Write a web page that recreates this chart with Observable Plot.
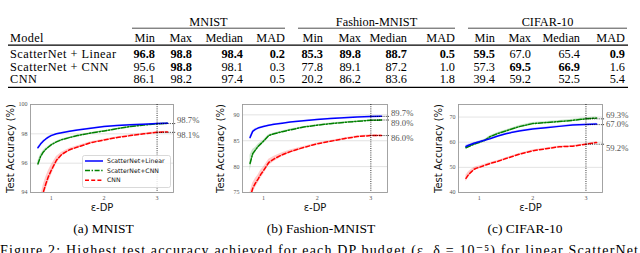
<!DOCTYPE html>
<html><head><meta charset="utf-8">
<script src="https://cdn.jsdelivr.net/npm/d3@7"></script>
<script src="https://cdn.jsdelivr.net/npm/@observablehq/plot@0.6"></script>
<style>
html,body{margin:0;padding:0;background:#fff;}
#fig{position:relative;width:640px;height:253px;overflow:hidden;background:#fff;}
.abs{position:absolute;}
.sub{position:absolute;font-family:"Liberation Serif","DejaVu Serif",serif;font-size:13.5px;color:#000;transform:translateX(-50%);white-space:nowrap;line-height:1;}
.serif, .serif text{font-family:"Liberation Serif","DejaVu Serif",serif;}
</style></head><body><div id="fig"></div>
<script>
// ---------------- data ----------------
const datasets = ["MNIST", "Fashion-MNIST", "CIFAR-10"];
const statNames = ["Min", "Max", "Median", "MAD"];
const models = ["ScatterNet + Linear", "ScatterNet + CNN", "CNN"];
const mnistStats = [[96.8, 98.8, 98.4, 0.2], [95.6, 98.8, 98.1, 0.3], [86.1, 98.2, 97.4, 0.5]];
const fashionStats = [[85.3, 89.8, 88.7, 0.5], [77.8, 89.1, 87.2, 1.0], [20.2, 86.2, 83.6, 1.8]];
const cifarStats = [[59.5, 67.0, 65.4, 0.9], [57.3, 69.5, 66.9, 1.6], [39.4, 59.2, 52.5, 5.4]];

const seriesNames = ["ScatterNet+Linear", "ScatterNet+CNN", "CNN"];
const epsilon = [0.75, 0.8, 0.85, 0.9, 0.95, 1.0, 1.1, 1.2, 1.35, 1.5, 1.75, 2.0, 2.25, 2.5, 2.75, 3.0, 3.2];

const mnistLinear = [97.05, 97.3, 97.5, 97.65, 97.78, 97.88, 98.0, 98.08, 98.18, 98.26, 98.38, 98.5, 98.57, 98.62, 98.66, 98.7, 98.72];
const mnistScatCnn = [95.95, 96.45, 96.75, 96.95, 97.1, 97.25, 97.45, 97.6, 97.75, 97.88, 98.05, 98.2, 98.35, 98.5, 98.6, 98.68, 98.72];
const mnistCnn = [92.0, 93.2, 94.0, 94.6, 95.1, 95.5, 96.2, 96.6, 96.92, 97.1, 97.4, 97.58, 97.75, 97.88, 98.0, 98.1, 98.13];
const mnistLinearBand = [0.06, 0.05, 0.04, 0.04, 0.04, 0.04, 0.03, 0.03, 0.03, 0.03, 0.03, 0.03, 0.03, 0.03, 0.03, 0.03, 0.03];
const mnistScatCnnBand = [0.2, 0.15, 0.1, 0.08, 0.06, 0.05, 0.05, 0.04, 0.04, 0.04, 0.04, 0.03, 0.03, 0.03, 0.03, 0.03, 0.03];
const mnistCnnBand = [0.5, 0.5, 0.5, 0.45, 0.4, 0.35, 0.25, 0.15, 0.1, 0.08, 0.06, 0.05, 0.05, 0.05, 0.05, 0.05, 0.05];
const mnistEnds = [98.7, 98.1];

const fashionLinear = [85.6, 86.8, 87.2, 87.45, 87.6, 87.75, 88.0, 88.2, 88.4, 88.6, 88.86, 89.1, 89.3, 89.45, 89.58, 89.7, 89.72];
const fashionScatCnn = [80.6, 82.5, 83.2, 83.9, 84.4, 84.9, 86.0, 86.35, 86.75, 87.1, 87.65, 88.0, 88.3, 88.55, 88.75, 88.95, 89.0];
const fashionCnn = [74.0, 75.8, 76.8, 77.6, 78.5, 79.2, 80.8, 81.5, 82.3, 82.9, 83.7, 84.4, 84.9, 85.4, 85.8, 86.0, 86.0];
const fashionLinearBand = [0.3, 0.2, 0.15, 0.1, 0.1, 0.1, 0.08, 0.08, 0.08, 0.08, 0.08, 0.08, 0.08, 0.08, 0.08, 0.08, 0.08];
const fashionScatCnnBand = [1.6, 0.8, 0.5, 0.4, 0.3, 0.25, 0.2, 0.15, 0.15, 0.15, 0.12, 0.12, 0.12, 0.12, 0.12, 0.12, 0.12];
const fashionCnnBand = [1.0, 1.0, 0.9, 0.8, 0.8, 0.7, 0.6, 0.5, 0.4, 0.3, 0.2, 0.15, 0.15, 0.15, 0.15, 0.15, 0.15];
const fashionEnds = [89.7, 89.0, 86.0];

const cifarLinear = [58.3, 58.8, 59.2, 59.6, 59.9, 60.2, 60.8, 61.4, 62.5, 63.4, 64.5, 65.3, 65.8, 66.3, 66.8, 67.0, 67.2];
const cifarScatCnn = [57.8, 58.3, 58.7, 59.2, 59.6, 59.9, 60.7, 62.2, 63.5, 64.5, 66.2, 67.4, 67.8, 68.2, 68.7, 69.3, 69.6];
const cifarCnn = [45.6, 47.2, 48.2, 49.2, 49.7, 50.0, 50.8, 51.5, 52.4, 53.5, 55.2, 56.6, 57.4, 58.2, 58.4, 59.2, 59.9];
const cifarLinearBand = [0.5, 0.4, 0.3, 0.3, 0.3, 0.3, 0.3, 0.3, 0.3, 0.3, 0.3, 0.3, 0.3, 0.3, 0.3, 0.3, 0.3];
const cifarScatCnnBand = [0.6, 0.5, 0.4, 0.4, 0.4, 0.4, 0.4, 0.4, 0.4, 0.4, 0.4, 0.4, 0.4, 0.4, 0.4, 0.4, 0.4];
const cifarCnnBand = [1.3, 1.1, 0.9, 0.7, 0.6, 0.5, 0.4, 0.4, 0.35, 0.3, 0.3, 0.3, 0.3, 0.3, 0.3, 0.3, 0.3];
const cifarEnds = [69.3, 67.0, 59.2];

const subcaptions = ["(a) MNIST", "(b) Fashion-MNIST", "(c) CIFAR-10"];
const captionText = "Figure 2: Highest test accuracy achieved for each DP budget (\u03b5, \u03b4 = 10\u207b\u2075) for linear ScatterNet";

// ---------------- styles / layout ----------------
const seriesStyle = [
  {color: "#0000ff", dash: null},
  {color: "#008000", dash: "5,1.6,1.4,1.6"},
  {color: "#ff0000", dash: "4,2.2"}
];
const fig = d3.select("#fig");
const serif = "Liberation Serif, DejaVu Serif, serif";
const sans = "DejaVu Sans, sans-serif";

// ---------------- table ----------------
const tableLayout = [
  {stats: mnistStats, rule: [132, 285], right: [155, 192, 243, 285]},
  {stats: fashionStats, rule: [298, 455], right: [323, 361, 407, 455]},
  {stats: cifarStats, rule: [468, 627], right: [495, 531, 580, 625]}
];
const tsvg = fig.append("svg").attr("class", "abs serif").style("left", "0px").style("top", "0px")
  .attr("width", 640).attr("height", 92);
function ttext(x, y, s, anchor, bold, ls) {
  const t = tsvg.append("text").attr("x", x).attr("y", y).attr("text-anchor", anchor)
    .attr("font-family", serif).attr("font-size", 12.3).attr("fill", "#000").text(s);
  if (bold) t.attr("font-weight", "bold");
  if (ls) t.attr("letter-spacing", ls);
  return t;
}
function hrule(x1, x2, y, w) {
  tsvg.append("line").attr("x1", x1).attr("x2", x2).attr("y1", y).attr("y2", y).attr("stroke", "#000").attr("stroke-width", w);
}
const rowBase = [58.3, 70.8, 83.3];
tableLayout.forEach((g, gi) => {
  ttext((g.rule[0] + g.rule[1]) / 2, 25.8, datasets[gi], "middle");
  hrule(g.rule[0], g.rule[1], 28.2, 0.7);
  statNames.forEach((s, si) => ttext(g.right[si], 41.5, s, "end"));
  statNames.forEach((s, si) => {
    const col = g.stats.map(r => r[si]);
    const best = si === 3 ? d3.min(col) : d3.max(col);
    g.stats.forEach((r, ri) => ttext(g.right[si], rowBase[ri], r[si].toFixed(1), "end", r[si] === best));
  });
});
ttext(10, 41.5, "Model", "start", false, 0.3);
models.forEach((m, i) => ttext(10, rowBase[i], m, "start", false, 0.5));
hrule(8, 628, 45.2, 1.2);
hrule(8, 628, 87.4, 1.2);

// ---------------- charts ----------------
function makeChart(cfg) {
  const marks = [];
  marks.push(Plot.gridY(cfg.yTicks, {stroke: "#dcdcdc", strokeOpacity: 1, strokeWidth: 0.8}));
  cfg.series.forEach((s, i) => {
    const rows = epsilon.map((e, j) => ({x: e, y: s.y[j], lo: s.y[j] - s.band[j], hi: s.y[j] + s.band[j]}));
    marks.push(Plot.areaY(rows, {x: "x", y1: "lo", y2: "hi", fill: seriesStyle[i].color, fillOpacity: 0.2, clip: true}));
  });
  [2, 1, 0].forEach(i => {
    const s = cfg.series[i];
    const rows = epsilon.map((e, j) => ({x: e, y: s.y[j]}));
    marks.push(Plot.line(rows, {x: "x", y: "y", stroke: seriesStyle[i].color, strokeWidth: 1.5,
      strokeDasharray: seriesStyle[i].dash, clip: true}));
  });
  marks.push(Plot.frame({stroke: "#9a9a9a", strokeWidth: 0.9}));
  marks.push(Plot.ruleX([3], {stroke: "#000", strokeWidth: 0.8, strokeDasharray: "1,1.2"}));
  marks.push(Plot.ruleY(cfg.ends, {y: d => d, x1: 3, x2: cfg.xDomain[1] + 0.06, stroke: "#000", strokeWidth: 0.8, strokeDasharray: "1,1.2"}));
  cfg.ends.forEach((v, i) => {
    marks.push(Plot.text([v], {y: d => d, text: d => d.toFixed(1) + "%", frameAnchor: "right", textAnchor: "start",
      lineAnchor: "middle", dx: 3.5, dy: cfg.endDy[i], fontSize: 8.7, fill: "#555", fontFamily: serif}));
  });
  marks.push(Plot.axisY(cfg.yTicks, {tickSize: 0, tickPadding: 3, fontSize: 6, color: "#555", label: null, fontFamily: serif}));
  marks.push(Plot.axisX([1, 2, 3], {tickSize: 0, tickPadding: 3, fontSize: 6, color: "#555", label: null, fontFamily: serif}));
  marks.push(Plot.text(["Test Accuracy (%)"], {text: d => d, frameAnchor: "left", rotate: -90, dx: cfg.ylabelDx,
    textAnchor: "middle", lineAnchor: "middle", fontFamily: sans, fontSize: 10, fill: "#111"}));
  marks.push(Plot.text(["\u03b5-DP"], {text: d => d, frameAnchor: "bottom", dy: 15.5, textAnchor: "middle", lineAnchor: "middle",
    fontFamily: sans, fontSize: 10, fill: "#111"}));
  const p = Plot.plot({
    width: cfg.width, height: 122,
    marginTop: 9, marginBottom: 25, marginLeft: cfg.ml, marginRight: cfg.width - cfg.ml - cfg.plotW,
    x: {domain: cfg.xDomain},
    y: {domain: cfg.yDomain},
    style: {fontFamily: serif, background: "transparent", overflow: "visible"},
    marks
  });
  const wrap = fig.append("div").attr("class", "abs").style("left", cfg.left + "px").style("top", "95px");
  wrap.node().appendChild(p);
}

makeChart({
  left: 0, width: 213, ml: 30, plotW: 143, xDomain: [0.61, 3.31], yDomain: [94, 100], yTicks: [94, 96, 98, 100],
  series: [{y: mnistLinear, band: mnistLinearBand}, {y: mnistScatCnn, band: mnistScatCnnBand}, {y: mnistCnn, band: mnistCnnBand}],
  ends: mnistEnds, endDy: [-3.5, 2.5], ylabelDx: -20
});
makeChart({
  left: 213, width: 213, ml: 29, plotW: 145, xDomain: [0.61, 3.31], yDomain: [75, 92], yTicks: [75, 80, 85, 90],
  series: [{y: fashionLinear, band: fashionLinearBand}, {y: fashionScatCnn, band: fashionScatCnnBand}, {y: fashionCnn, band: fashionCnnBand}],
  ends: fashionEnds, endDy: [-3, 3, 3], ylabelDx: -22
});
makeChart({
  left: 426, width: 214, ml: 32, plotW: 144, xDomain: [0.61, 3.31], yDomain: [40, 75], yTicks: [40, 50, 60, 70],
  series: [{y: cifarLinear, band: cifarLinearBand}, {y: cifarScatCnn, band: cifarScatCnnBand}, {y: cifarCnn, band: cifarCnnBand}],
  ends: cifarEnds, endDy: [-3.5, 0, 4], ylabelDx: -20
});

// ---------------- legend (chart a) ----------------
const lg = fig.append("svg").attr("class", "abs").style("left", "82px").style("top", "155px")
  .attr("width", 89).attr("height", 33);
lg.append("rect").attr("x", 0.5).attr("y", 0.5).attr("width", 88).attr("height", 32).attr("rx", 2)
  .attr("fill", "#fff").attr("fill-opacity", 0.85).attr("stroke", "#cfcfcf").attr("stroke-width", 0.8);
seriesNames.forEach((n, i) => {
  const y = 6 + i * 9.6;
  lg.append("line").attr("x1", 3).attr("x2", 21).attr("y1", y).attr("y2", y)
    .attr("stroke", seriesStyle[i].color).attr("stroke-width", 1.5)
    .attr("stroke-dasharray", seriesStyle[i].dash);
  lg.append("text").attr("x", 25).attr("y", y + 2.2).text(n)
    .attr("font-family", sans).attr("font-size", 6.2).attr("fill", "#111");
});

// ---------------- subcaptions & caption ----------------
const subX = [103.5, 321, 525];
subcaptions.forEach((s, i) => {
  fig.append("div").attr("class", "sub").style("left", subX[i] + "px").style("top", "222px").text(s);
});
const csvg = fig.append("svg").attr("class", "abs").style("left", "0px").style("top", "236px")
  .attr("width", 640).attr("height", 17);
csvg.append("text").attr("x", 0).attr("y", 19).attr("textLength", 638).attr("lengthAdjust", "spacing")
  .attr("font-family", serif).attr("font-size", 14).attr("fill", "#000").text(captionText);
</script></body></html>
